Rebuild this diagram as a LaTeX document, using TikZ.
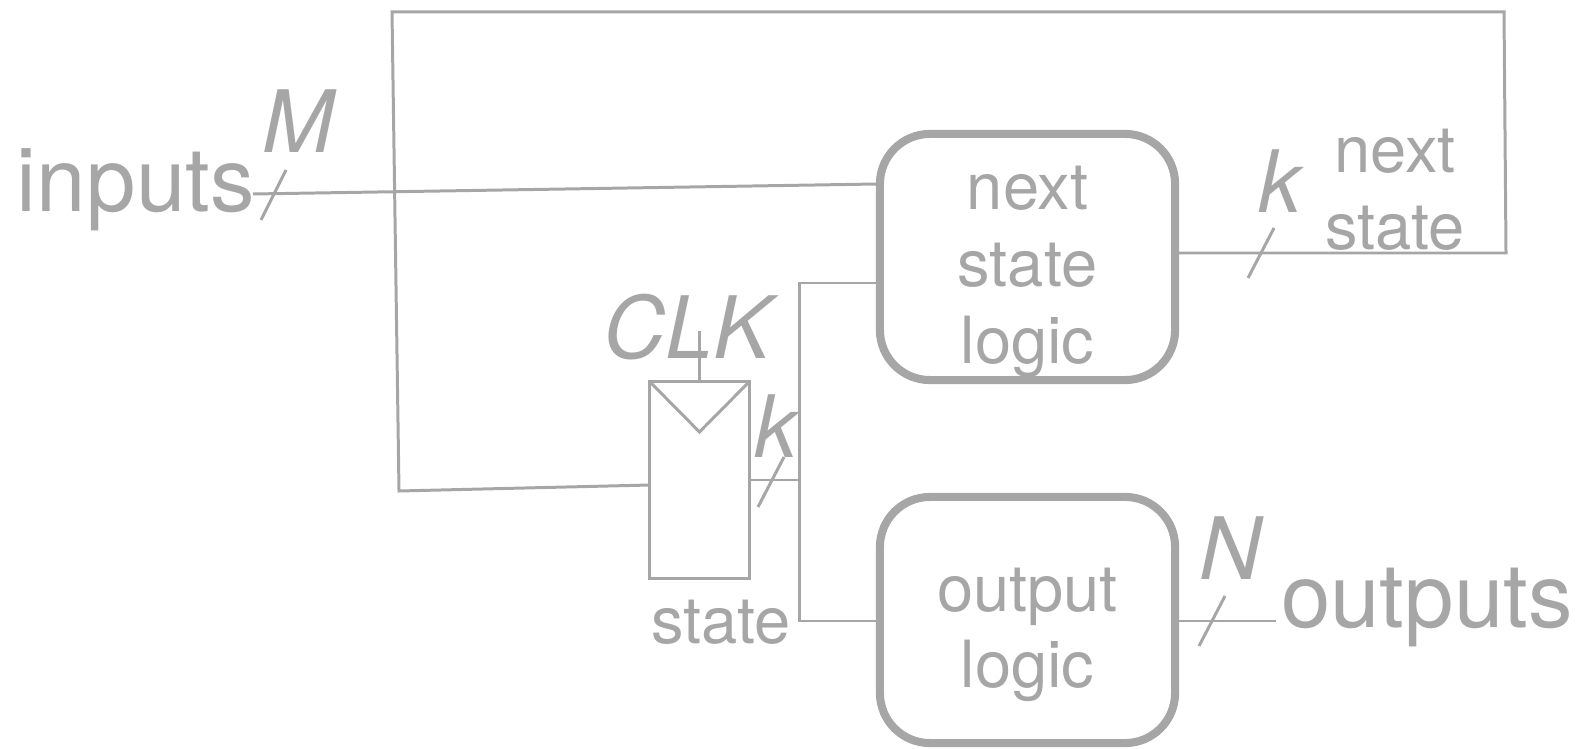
\documentclass[tikz,border=0pt]{standalone}
\usepackage{fontspec}
\setmainfont{TeX Gyre Heros}
\usepackage{xcolor}
\usepackage{tikz}
\usetikzlibrary{positioning}

\definecolor{wiregray}{RGB}{166,166,166}

\begin{document}
\begin{tikzpicture}[
    x=0.01cm, y=-0.01cm,
    every node/.style={text=wiregray, inner sep=0pt, outer sep=0pt},
    wire/.style={line width=0.85pt, draw=wiregray},
    logicbox/.style={
        draw=wiregray,
        line width=2.3pt,
        rounded corners=0.5cm,
        minimum width=2.95cm,
        minimum height=2.46cm
    },
    register/.style={
        draw=wiregray,
        line width=0.85pt,
        minimum width=0.99cm,
        minimum height=1.96cm
    },
    bigfont/.style={font=\fontsize{25.3}{30}\selectfont},
    boxfont/.style={font=\fontsize{18.5}{21.8}\selectfont, align=center},
    busletter/.style={font=\fontsize{24.5}{29}\selectfont\itshape}
    ]

                \useasboundingbox (0,0) rectangle (1585,749);

                \node[logicbox] (NS) at (1027.5,257) {};
                \node[logicbox] (OL) at (1027.5,620) {};
                \node[register] (reg) at (699.5,480) {};

                \node[boxfont] (nstext) at ([yshift=-0.15cm]NS.center) {next\\state\\logic};
                \node[boxfont] (oltext) at ([yshift=-0.15cm]OL.center) {output\\logic};

                \draw[wire] (reg.north west) -- ++(49.5,50) -- (reg.north east);

                \coordinate (clktop) at (699.5,331);
                \draw[wire] (reg.north) -- (clktop);

                \coordinate (bus) at (799,480);
                \coordinate (bustop) at (799,283);
                \coordinate (busbot) at (799,621);
                \coordinate (inend) at (253,194);
                \coordinate (outend) at (1276,621);
                \coordinate (fbr) at (1506,253);
                \coordinate (fbtr) at (1504,12);
                \coordinate (fbtl) at (392,12);
                \coordinate (fbl) at (399,491);

                \draw[wire] (reg.east) -- (bus);
                \draw[wire] (bustop -| NS.west) -- (bustop) -- (busbot) -- (busbot -| OL.west);

                \draw[wire] (inend) -- ([yshift=0.73cm]NS.west);

                \draw[wire] ([yshift=0.04cm]NS.east) -- (fbr) -- (fbtr) -- (fbtl) -- (fbl) -- ([yshift=-0.05cm]reg.west);

                \draw[wire] ([yshift=-0.01cm]OL.east) -- (outend);

                \draw[wire] (261,220) -- (286,170);
                \draw[wire] (758,507) -- (784,457);
                \draw[wire] (1248,278) -- (1274,228);
                \draw[wire] (1199,646) -- (1225,596);

                \node[bigfont, anchor=base west] (inlabel) at (17,212) {inputs};
                \node[bigfont, anchor=base west] (outlabel) at (1281,627) {outputs};
                \node[busletter, anchor=base] (inwidth) at (298,153) {M};
                \node[busletter, anchor=base] (clklabel) at (687,359) {CLK};
                \node[busletter, anchor=base] (regwidth) at (776,457) {k};
                \node[busletter, anchor=base] (nswidth) at (1280,213) {k};
                \node[busletter, anchor=base] (outwidth) at (1231,579) {N};
                \node[boxfont, anchor=base] (statelabel) at (721,643) {state};
                \node[boxfont] (fblabel) at (1395,190) {next\\state};

\end{tikzpicture}
\end{document}
